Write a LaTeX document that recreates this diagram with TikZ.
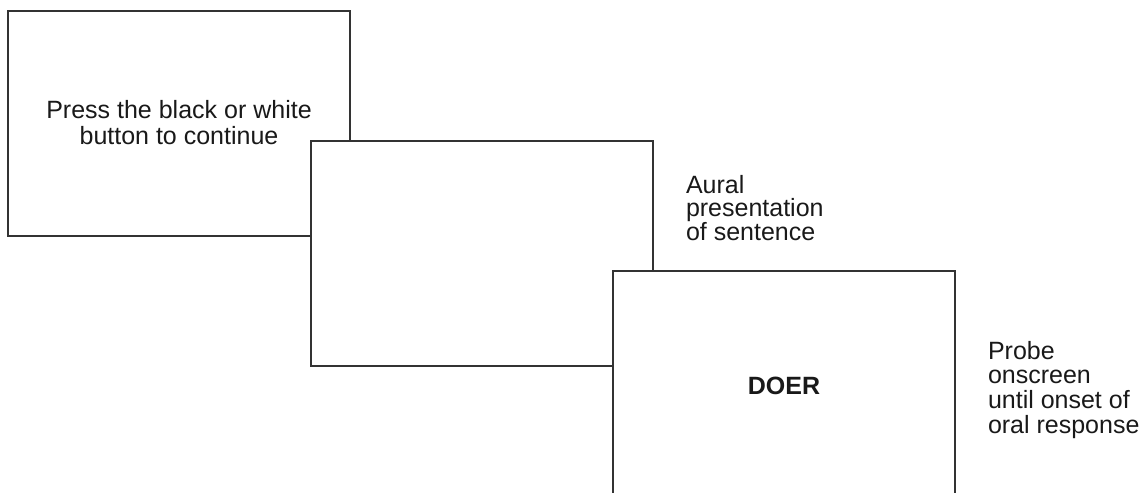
\documentclass[tikz,border=0pt]{standalone}
\usepackage{fontspec}
\setmainfont{Liberation Sans}
\begin{document}
\begin{tikzpicture}[x=1pt,y=-1pt,
  screen/.style={draw=black!80, line width=1.4pt, fill=white, anchor=north west,
    inner sep=0pt, outer sep=0pt, minimum width=342pt, minimum height=225pt},
  caption/.style={anchor=north west, inner sep=0pt, outer sep=0pt, align=left,
    text=black!90},
  label/.style={inner sep=0pt, outer sep=0pt, text=black!90}]
  \useasboundingbox (0,0) rectangle (1147,492);
  \clip (0,0) rectangle (1147,492);
  % three successive trial screens, each overlapping the previous one
  \node[screen] (s1) at (8,11) {};
  \node[screen] (s2) at (311,141) {};
  \node[screen] (s3) at (613,271) {};
  % screen contents
  \node[label, align=center, anchor=north, font=\fontsize{25}{26}\selectfont]
    (t1) at (179,100) {Press the black or white\\button to continue};
  \node[label, anchor=base, font=\fontsize{25}{26}\selectfont\bfseries]
    (t3) at (784,394) {DOER};
  % phase descriptions
  \node[caption, font=\fontsize{25}{23}\selectfont] (c2) at (686,175)
    {Aural\\presentation\\of sentence};
  \node[caption, font=\fontsize{25}{24.7}\selectfont] (c3) at (988,341)
    {Probe\\onscreen\\until onset of\\oral response};
\end{tikzpicture}
\end{document}
